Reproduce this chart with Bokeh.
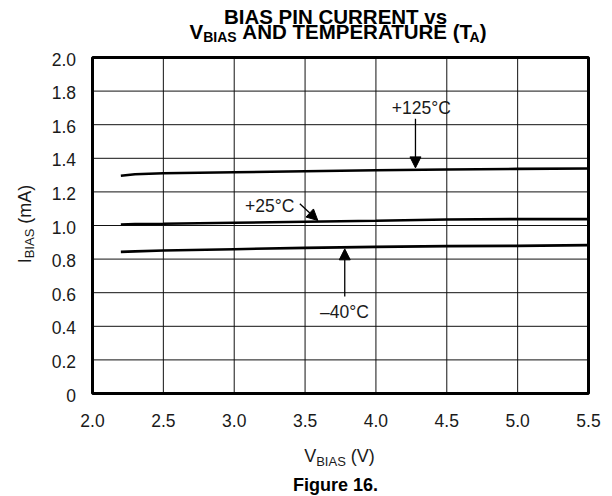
import math
from bokeh.plotting import figure
from bokeh.models import Range1d, Label, Arrow, NormalHead
from bokeh.embed import file_html
from bokeh.resources import INLINE

# ---------------- data ----------------
v_bias = [2.2, 2.3, 2.5, 3.0, 3.5, 4.0, 4.5, 5.0, 5.5]
i_bias_125c = [1.296, 1.305, 1.311, 1.317, 1.323, 1.329, 1.333, 1.337, 1.339]
i_bias_25c = [1.006, 1.008, 1.010, 1.016, 1.022, 1.028, 1.036, 1.038, 1.038]
i_bias_m40c = [0.843, 0.846, 0.851, 0.859, 0.867, 0.873, 0.877, 0.879, 0.883]
series_labels = ["+125\u00b0C", "+25\u00b0C", "\u201340\u00b0C"]

x_ticks = [2.0, 2.5, 3.0, 3.5, 4.0, 4.5, 5.0, 5.5]
x_tick_labels = ["2.0", "2.5", "3.0", "3.5", "4.0", "4.5", "5.0", "5.5"]
y_ticks = [0.0, 0.2, 0.4, 0.6, 0.8, 1.0, 1.2, 1.4, 1.6, 1.8, 2.0]
y_tick_labels = ["0", "0.2", "0.4", "0.6", "0.8", "1.0", "1.2", "1.4", "1.6", "1.8", "2.0"]

FONT = "Liberation Sans"
INK = "#1a1a1a"
NB = "\u00a0"
BASE_FIX = 0.33   # em: lift applied to alphabetic-baseline labels

# ---------------- layout (pixels) ----------------
W, H = 612, 496
PL, PR, PT, PB = 92, 588, 57, 393          # chart box inside the canvas
x0, x1 = x_ticks[0], x_ticks[-1]
y0, y1 = y_ticks[0], y_ticks[-1]
kx = (x1 - x0) / (PR - PL)
ky = (y1 - y0) / (PB - PT)

p = figure(width=W, height=H,
           x_range=Range1d(x0 - PL * kx, x1 + (W - PR) * kx),
           y_range=Range1d(y0 - (H - PB) * ky, y1 + PT * ky),
           output_backend="svg", toolbar_location=None,
           x_axis_location=None, y_axis_location=None,
           min_border=0)
p.background_fill_color = "white"
p.border_fill_color = "white"
p.outline_line_color = None
p.grid.visible = False

# grid lines at the tick positions
p.segment(x0=x_ticks, y0=[y0] * len(x_ticks), x1=x_ticks, y1=[y1] * len(x_ticks),
          line_color="#111111", line_width=1)
p.segment(x0=[x0] * len(y_ticks), y0=y_ticks, x1=[x1] * len(y_ticks), y1=y_ticks,
          line_color="#111111", line_width=1)
# chart box
p.quad(left=[x0], right=[x1], bottom=[y0], top=[y1], fill_color=None,
       line_color="black", line_width=3)

# curves
for ys in (i_bias_125c, i_bias_25c, i_bias_m40c):
    p.line(v_bias, ys, line_color="black", line_width=2.6)

TICK_SIZE = 17.5
# tick labels
for xv, lab in zip(x_ticks, x_tick_labels):
    p.add_layout(Label(x=xv, y=y0, y_offset=-33 + BASE_FIX * TICK_SIZE, text=lab,
                       text_font=FONT, text_font_size=f"{TICK_SIZE}px",
                       text_align="center", text_baseline="alphabetic",
                       text_color=INK))
for yv, lab in zip(y_ticks, y_tick_labels):
    p.add_layout(Label(x=x0, y=yv, x_offset=-16.5, y_offset=-1.5, text=lab,
                       text_font=FONT, text_font_size=f"{TICK_SIZE}px",
                       text_align="right", text_baseline="middle",
                       text_color=INK))


def add_label(x, y, text):
    p.add_layout(Label(x=x, y=y, y_offset=BASE_FIX * TICK_SIZE, text=text,
                       text_font=FONT, text_font_size=f"{TICK_SIZE}px",
                       text_align="center", text_baseline="alphabetic",
                       text_color=INK))


def add_arrow(xa, ya, xb, yb):
    p.add_layout(Arrow(end=NormalHead(size=11, fill_color="black",
                                      line_color="black", line_width=1),
                       x_start=xa, y_start=ya, x_end=xb, y_end=yb,
                       line_color="black", line_width=1.3))


add_label(4.320, 1.665, series_labels[0])
add_arrow(4.279, 1.635, 4.279, 1.343)
add_label(3.250, 1.079, series_labels[1])
add_arrow(3.463, 1.129, 3.590, 1.030)
add_label(3.778, 0.452, series_labels[2])
add_arrow(3.780, 0.577, 3.780, 0.861)

# Helvetica / Arial advance widths (per 1000 em) for composing rich text
_REG = {" ": 278, NB: 278, "(": 333, ")": 333, "A": 667, "B": 667, "I": 278,
        "S": 667, "V": 667, "m": 833}
_BOLD = {" ": 278, NB: 278, "(": 333, ")": 333, ".": 278, "A": 722, "B": 722,
         "C": 722, "D": 722, "E": 667, "F": 611, "I": 278, "M": 833, "N": 722,
         "P": 667, "R": 722, "S": 667, "T": 611, "U": 722, "V": 667, "e": 556,
         "g": 611, "i": 278, "r": 389, "s": 556, "u": 611, "v": 556}


def text_width(s, size, bold):
    tbl = _BOLD if bold else _REG
    return sum(tbl.get(c, 556) for c in s) * size / 1000.0


def rich_text(x, y, segs, dx, dy, angle=0.0, color="black"):
    """segs: (text, size_px, bold, baseline_shift_down_px, advance_adjust_px)"""
    total = sum(text_width(t, s, b) + adj for t, s, b, _, adj in segs)
    pos = -total / 2.0
    ca, sa = math.cos(angle), math.sin(angle)
    for t, s, b, sh, adj in segs:
        down = sh - BASE_FIX * s
        ox = dx + pos * ca + down * sa
        oy = dy + pos * sa - down * ca
        p.add_layout(Label(x=x, y=y, x_offset=ox, y_offset=oy, text=t,
                           angle=angle, text_font=FONT,
                           text_font_size=f"{s}px",
                           text_font_style="bold" if b else "normal",
                           text_align="left", text_baseline="alphabetic",
                           text_color=color))
        pos += text_width(t, s, b) + adj


xc = (x0 + x1) / 2.0
yc = (y0 + y1) / 2.0
TS = 20.5
# title
rich_text(xc, y1, [("BIAS PIN CURRENT vs", TS, True, 0, 0)], -5, 34)
rich_text(xc, y1, [("V", TS, True, 0, 0), ("BIAS", 14, True, 3.5, 0),
                   (NB + "AND TEMPERATURE (T", TS, True, 0, -4),
                   ("A", 14, True, 3.5, 0),
                   (")", TS, True, 0, 0)], -2.5, 19)
# x axis label
rich_text(xc, y0, [("V", 18, False, 0, 0), ("BIAS", 13, False, 3.5, 0),
                   (NB + "(V)", 18, False, 0, 0)], -1, -68.7, color=INK)
# figure caption
rich_text(xc, y0, [("Figure 16.", 18, True, 0, 0)], -5, -97)
# y axis label (rotated)
rich_text(x0, yc, [("I", 18, False, 0, 0), ("BIAS", 13, False, 3.5, 0),
                   (NB + "(mA)", 18, False, 0, 0)], -62, 1.5,
          angle=math.pi / 2, color=INK)

open("out.html", "w").write(file_html(p, INLINE))
